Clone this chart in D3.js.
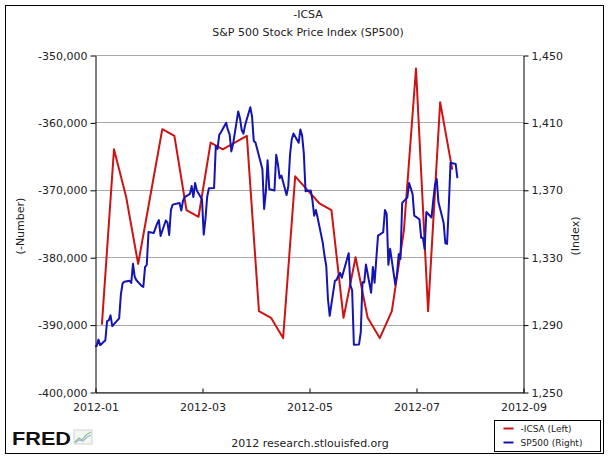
<!DOCTYPE html>
<html>
<head>
<meta charset="utf-8">
<script src="https://cdn.jsdelivr.net/npm/d3@7"></script>
<style>
  body { margin: 0; background: #fff; }
  svg { display: block; }
</style>
</head>
<body>
<div id="chart"></div>
<script>
// -ICSA, weekly (week ending)
const icsaDates = [
  "2012-01-07","2012-01-14","2012-01-21","2012-01-28","2012-02-04","2012-02-11",
  "2012-02-18","2012-02-25","2012-03-03","2012-03-10","2012-03-17","2012-03-24",
  "2012-03-31","2012-04-07","2012-04-14","2012-04-21","2012-04-28","2012-05-05",
  "2012-05-12","2012-05-19","2012-05-26","2012-06-02","2012-06-09","2012-06-16",
  "2012-06-23","2012-06-30","2012-07-07","2012-07-14","2012-07-21","2012-07-28"];
const icsaValues = [
  -390000,-364000,-371000,-381000,-371000,-361000,
  -362000,-373000,-374000,-363000,-364000,-363000,
  -362000,-388000,-389000,-392000,-368000,-370000,
  -372000,-373000,-389000,-380000,-389000,-392000,
  -388000,-376000,-352000,-388000,-357000,-367000];

// SP500, daily close
const spDates = [
  "2012-01-03","2012-01-04","2012-01-05","2012-01-06","2012-01-09","2012-01-10","2012-01-11","2012-01-12","2012-01-13",
  "2012-01-17","2012-01-18","2012-01-19","2012-01-20","2012-01-23","2012-01-24","2012-01-25","2012-01-26","2012-01-27",
  "2012-01-30","2012-01-31","2012-02-01","2012-02-02","2012-02-03","2012-02-06","2012-02-07","2012-02-08","2012-02-09",
  "2012-02-10","2012-02-13","2012-02-14","2012-02-15","2012-02-16","2012-02-17","2012-02-21","2012-02-22","2012-02-23",
  "2012-02-24","2012-02-27","2012-02-28","2012-02-29","2012-03-01","2012-03-02","2012-03-05","2012-03-06","2012-03-07",
  "2012-03-08","2012-03-09","2012-03-12","2012-03-13","2012-03-14","2012-03-15","2012-03-16","2012-03-19","2012-03-20",
  "2012-03-21","2012-03-22","2012-03-23","2012-03-26","2012-03-27","2012-03-28","2012-03-29","2012-03-30","2012-04-02",
  "2012-04-03","2012-04-04","2012-04-05","2012-04-09","2012-04-10","2012-04-11","2012-04-12","2012-04-13","2012-04-16",
  "2012-04-17","2012-04-18","2012-04-19","2012-04-20","2012-04-23","2012-04-24","2012-04-25","2012-04-26","2012-04-27",
  "2012-04-30","2012-05-01","2012-05-02","2012-05-03","2012-05-04","2012-05-07","2012-05-08","2012-05-09","2012-05-10",
  "2012-05-11","2012-05-14","2012-05-15","2012-05-16","2012-05-17","2012-05-18","2012-05-21","2012-05-22","2012-05-23",
  "2012-05-24","2012-05-25","2012-05-29","2012-05-30","2012-05-31","2012-06-01","2012-06-04","2012-06-05","2012-06-06",
  "2012-06-07","2012-06-08","2012-06-11","2012-06-12","2012-06-13","2012-06-14","2012-06-15","2012-06-18","2012-06-19",
  "2012-06-20","2012-06-21","2012-06-22","2012-06-25","2012-06-26","2012-06-27","2012-06-28","2012-06-29","2012-07-02",
  "2012-07-03","2012-07-05","2012-07-06","2012-07-09","2012-07-10","2012-07-11","2012-07-12","2012-07-13","2012-07-16",
  "2012-07-17","2012-07-18","2012-07-19","2012-07-20","2012-07-23","2012-07-24","2012-07-25","2012-07-26","2012-07-27",
  "2012-07-30","2012-07-31"];
const spValues = [
  1277.1,1277.3,1281.1,1277.8,1280.7,1292.1,1292.5,1295.5,1289.1,
  1293.7,1308.0,1314.5,1315.4,1316.0,1314.7,1326.1,1318.4,1316.3,
  1313.0,1312.4,1324.1,1325.5,1344.9,1344.3,1347.1,1350.0,1352.0,
  1342.6,1351.8,1350.5,1343.2,1358.0,1361.2,1362.2,1357.7,1363.5,
  1365.7,1367.6,1372.2,1365.7,1374.1,1369.6,1364.3,1343.4,1352.6,
  1365.9,1370.9,1371.1,1396.0,1394.3,1402.6,1404.2,1409.8,1405.5,
  1402.9,1392.8,1397.1,1416.5,1412.5,1405.5,1403.3,1408.5,1419.0,
  1413.4,1399.0,1398.1,1382.2,1358.6,1368.7,1387.6,1370.3,1369.6,
  1390.8,1385.1,1376.9,1378.5,1366.9,1372.0,1390.7,1400.0,1403.4,
  1397.9,1405.8,1402.3,1391.6,1369.1,1369.6,1363.7,1354.6,1358.0,
  1353.4,1338.4,1330.7,1324.8,1304.9,1295.2,1316.0,1316.6,1318.9,
  1320.7,1317.8,1332.4,1313.3,1310.3,1278.0,1278.2,1285.5,1315.1,
  1315.0,1325.7,1308.9,1324.2,1314.9,1329.1,1342.8,1344.8,1358.0,
  1355.7,1325.5,1335.0,1313.7,1320.0,1331.9,1329.0,1362.2,1365.5,
  1374.0,1367.6,1354.7,1352.5,1341.5,1341.5,1334.8,1356.8,1353.6,
  1363.7,1372.8,1376.5,1362.7,1350.5,1338.3,1337.9,1360.0,1386.0,
  1385.3,1377.0];

const leftTicks = [-400000,-390000,-380000,-370000,-360000,-350000];
const rightTicks = [1250,1290,1330,1370,1410,1450];
const xTickDates = ["2012-01-03","2012-03-05","2012-05-06","2012-07-07","2012-09-07"];
const xDomain = ["2012-01-03","2012-09-07"];

const width = 612, height = 459;
const margin = {top: 55, right: 89, bottom: 67, left: 95};
const font = "DejaVu Sans, Verdana, sans-serif";
const red = "#cc1414", blue = "#1414b4";

const parse = d3.timeParse("%Y-%m-%d");
const fmt = d3.formatLocale({decimal: ".", thousands: ",", grouping: [3], currency: ["$", ""], minus: "-"}).format(",");

const icsa = icsaDates.map((d, i) => ({date: parse(d), value: icsaValues[i]}));
const sp = spDates.map((d, i) => ({date: parse(d), value: spValues[i]}));

const svg = d3.select("#chart")
  .append("svg")
  .attr("width", width)
  .attr("height", height)
  .style("font-family", font);

svg.append("rect")
  .attr("x", 5.5).attr("y", 5.5)
  .attr("width", 598).attr("height", 448)
  .attr("fill", "white")
  .attr("stroke", "black");

const x = d3.scaleTime()
  .domain(xDomain.map(parse))
  .range([margin.left, width - margin.right]);

const yL = d3.scaleLinear()
  .domain([-400000, -350000])
  .range([height - margin.bottom, margin.top]);

const yR = d3.scaleLinear()
  .domain([1250, 1450])
  .range([height - margin.bottom, margin.top]);

// gridlines
svg.append("g")
  .selectAll("line")
  .data(leftTicks)
  .join("line")
    .attr("x1", margin.left)
    .attr("x2", width - margin.right)
    .attr("y1", d => Math.round(yL(d)) + 0.5)
    .attr("y2", d => Math.round(yL(d)) + 0.5)
    .attr("stroke", "#aaaaaa");

let styleAxis = g => {
  g.select(".domain").attr("stroke", "black");
  g.selectAll(".tick line").attr("stroke", "black");
  g.selectAll(".tick text")
    .attr("fill", "#222")
    .style("font-size", "11px")
    .style("font-family", font);
};

svg.append("g")
  .attr("transform", `translate(${margin.left + 0.5},0.5)`)
  .call(d3.axisLeft(yL).tickValues(leftTicks).tickFormat(fmt).tickSizeInner(5).tickSizeOuter(0).tickPadding(3))
  .call(styleAxis);

svg.append("g")
  .attr("transform", `translate(${width - margin.right + 0.5},0.5)`)
  .call(d3.axisRight(yR).tickValues(rightTicks).tickFormat(fmt).tickSizeInner(5).tickSizeOuter(0).tickPadding(3))
  .call(styleAxis);

svg.append("g")
  .attr("transform", `translate(0.5,${height - margin.bottom + 0.5})`)
  .call(d3.axisBottom(x).tickValues(xTickDates.map(parse)).tickFormat(d3.timeFormat("%Y-%m")).tickSizeInner(-4).tickSizeOuter(0).tickPadding(11))
  .call(styleAxis);

// series
svg.append("path")
  .datum(icsa)
  .attr("fill", "none")
  .attr("stroke", red)
  .attr("stroke-width", 2)
  .attr("stroke-linejoin", "round")
  .attr("d", d3.line().x(d => x(d.date)).y(d => yL(d.value)));

svg.append("path")
  .datum(sp)
  .attr("fill", "none")
  .attr("stroke", blue)
  .attr("stroke-width", 2)
  .attr("stroke-linejoin", "round")
  .attr("d", d3.line().x(d => x(d.date)).y(d => yR(d.value)));

// titles
svg.append("text")
  .attr("x", 308).attr("y", 18)
  .attr("text-anchor", "middle")
  .style("font-size", "11px")
  .attr("fill", "#222")
  .text("-ICSA");

svg.append("text")
  .attr("x", 308).attr("y", 36)
  .attr("text-anchor", "middle")
  .style("font-size", "11px")
  .attr("fill", "#222")
  .text("S&P 500 Stock Price Index (SP500)");

svg.append("text")
  .attr("transform", "translate(24,226) rotate(-90)")
  .attr("text-anchor", "middle")
  .style("font-size", "11px")
  .attr("fill", "#222")
  .text("(-Number)");

svg.append("text")
  .attr("transform", "translate(579,236) rotate(-90)")
  .attr("text-anchor", "middle")
  .style("font-size", "11px")
  .attr("fill", "#222")
  .text("(Index)");

// footer
svg.append("text")
  .attr("x", 310).attr("y", 447)
  .attr("text-anchor", "middle")
  .style("font-size", "11px")
  .attr("fill", "#222")
  .text("2012 research.stlouisfed.org");

svg.append("text")
  .attr("x", 12).attr("y", 445)
  .attr("textLength", 59)
  .attr("lengthAdjust", "spacingAndGlyphs")
  .style("font-family", "Liberation Sans, Arial, sans-serif")
  .style("font-size", "18px")
  .style("font-weight", "900")
  .attr("fill", "#111")
  .text("FRED");

const icon = svg.append("g").attr("transform", "translate(74,430)");
icon.append("rect").attr("width", 18).attr("height", 14).attr("fill", "#f4f6f4").attr("stroke", "#cfd6cf");
icon.append("path").attr("d", "M1,12 L5,8 L8,10 L12,5 L17,2").attr("fill", "none").attr("stroke", "#8fbf8f").attr("stroke-width", 1.2);
icon.append("path").attr("d", "M1,13 L5,10 L9,11 L13,7 L17,5").attr("fill", "none").attr("stroke", "#9db8d6").attr("stroke-width", 1.2);

// legend
const legend = svg.append("g").attr("transform", "translate(494.5,420.5)");
legend.append("rect")
  .attr("width", 106).attr("height", 31)
  .attr("fill", "white").attr("stroke", "black");

const legendItems = [
  {label: "-ICSA (Left)", color: red},
  {label: "SP500 (Right)", color: blue}
];
legend.selectAll("g.item")
  .data(legendItems)
  .join("g")
    .attr("class", "item")
    .attr("transform", (d, i) => `translate(0,${8 + i * 14})`)
    .each(function(d) {
      const g = d3.select(this);
      g.append("line").attr("x1", 9).attr("x2", 19).attr("y1", 0).attr("y2", 0)
        .attr("stroke", d.color).attr("stroke-width", 2);
      g.append("text").attr("x", 26).attr("y", 3.5)
        .style("font-size", "9px").attr("fill", "#222").text(d.label);
    });
</script>
</body>
</html>
